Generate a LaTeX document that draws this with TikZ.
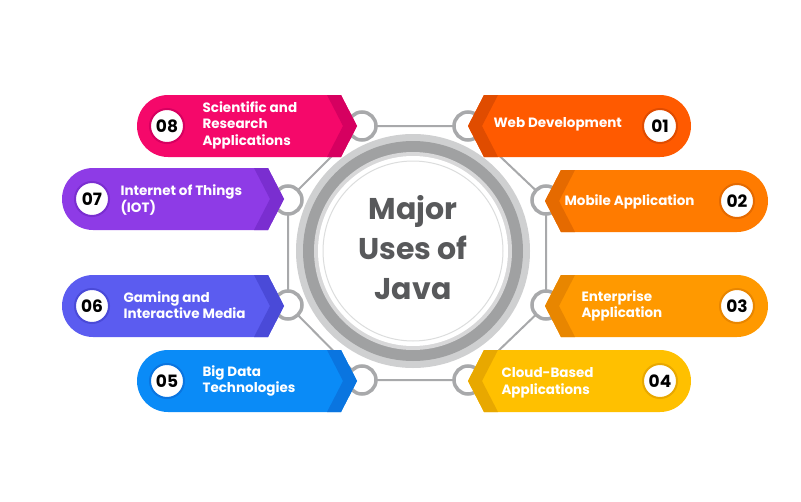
\documentclass[tikz,border=0pt]{standalone}
\usepackage{fontspec}
\setmainfont{Poppins}
\usetikzlibrary{calc}
\definecolor{cA}{HTML}{F5086A}\definecolor{dA}{HTML}{D60060}
\definecolor{cB}{HTML}{8E3BE6}\definecolor{dB}{HTML}{7A2ED0}
\definecolor{cC}{HTML}{5B5CF0}\definecolor{dC}{HTML}{4A4AD8}
\definecolor{cD}{HTML}{0A8BF7}\definecolor{dD}{HTML}{0A75E0}
\definecolor{cE}{HTML}{FF5A00}\definecolor{dE}{HTML}{E04C00}
\definecolor{cF}{HTML}{FF7B00}\definecolor{dF}{HTML}{E56A00}
\definecolor{cG}{HTML}{FF9900}\definecolor{dG}{HTML}{E88600}
\definecolor{cH}{HTML}{FFC000}\definecolor{dH}{HTML}{E8A800}
\definecolor{gline}{HTML}{A8A9AB}
\definecolor{tgray}{HTML}{58595B}
\tikzset{
  ringsm/.style={circle,draw=gline,line width=3.5pt,fill=white,minimum size=28pt,inner sep=0pt},
  numc/.style={circle,fill=white,minimum size=34pt,inner sep=0pt,font=\fontsize{17}{17}\selectfont\bfseries,text=black},
  btxt/.style={font=\fontsize{13.5}{16.5}\selectfont\bfseries,text=white,align=left,anchor=west},
  oct/.style={draw=gline,line width=2pt}
}
\newcommand\banR[5]{%
  \fill[#4] (#1+31,#3-31) -- (#2-16,#3-31) -- (#2,#3) -- (#2-16,#3+31) -- (#1+31,#3+31) arc[start angle=90,end angle=270,radius=31] -- cycle;
  \fill[#5] (#2-30,#3-31) -- (#2-16,#3-31) -- (#2,#3) -- (#2-16,#3+31) -- (#2-30,#3+31) -- (#2-14,#3) -- cycle;}
\newcommand\banL[5]{%
  \fill[#4] (#2-31,#3-31) -- (#1+16,#3-31) -- (#1,#3) -- (#1+16,#3+31) -- (#2-31,#3+31) arc[start angle=90,end angle=-90,radius=31] -- cycle;
  \fill[#5] (#1+30,#3-31) -- (#1+16,#3-31) -- (#1,#3) -- (#1+16,#3+31) -- (#1+30,#3+31) -- (#1+14,#3) -- cycle;}
\begin{document}
\begin{tikzpicture}[x=1pt,y=-1pt]
\useasboundingbox (0,0) rectangle (801,501);
\coordinate (r8) at (362,126);
\coordinate (r1) at (468,126);
\coordinate (r2) at (546,200);
\coordinate (r3) at (546,305);
\coordinate (r4) at (468,380);
\coordinate (r5) at (362,380);
\coordinate (r6) at (288,305);
\coordinate (r7) at (288,200);
\draw[oct] (r8)--(r1) (r1)--(r2) (r2)--(r3) (r3)--(r4) (r4)--(r5) (r5)--(r6) (r6)--(r7) (r7)--(r8);
\foreach \r in {r1,r2,r3,r4,r5,r6,r7,r8} \node[ringsm] (ring\r) at (\r) {};
\fill[gline!55] (413,251) circle (117);
\fill[gline!95!black] (413,251) circle (110);
\fill[gline!45] (413,251) circle (99);
\fill[white] (413,251) circle (95);
\draw[gline!40,line width=1pt] (413,251) circle (90);
\node[font=\fontsize{30}{40}\selectfont\bfseries,text=tgray,align=center] (title) at (413,248) {Major\\Uses of\\Java};
\banR{137}{357}{126}{cA}{dA}
\banR{62}{284}{199}{cB}{dB}
\banR{62}{284}{306}{cC}{dC}
\banR{137}{357}{381}{cD}{dD}
\banL{468}{691}{126}{cE}{dE}
\banL{545}{768}{201}{cF}{dF}
\banL{545}{768}{306}{cG}{dG}
\banL{468}{691}{381}{cH}{dH}
\node[numc,draw=dA,line width=2pt] (n8) at (167,126) {08};
\node[numc,draw=dB,line width=2pt] (n7) at (92,199) {07};
\node[numc,draw=dC,line width=2pt] (n6) at (92,306) {06};
\node[numc,draw=dD,line width=2pt] (n5) at (167,381) {05};
\node[numc,draw=dE,line width=2pt] (n1) at (660,126) {01};
\node[numc,draw=dF,line width=2pt] (n2) at (737,201) {02};
\node[numc,draw=dG,line width=2pt] (n3) at (737,306) {03};
\node[numc,draw=dH,line width=2pt] (n4) at (660,381) {04};
\node[btxt] (t8) at (199,125) {Scientific and\\Research\\Applications};
\node[btxt] (t7) at (117,200) {Internet of Things\\(IOT)};
\node[btxt] (t6) at (120,305) {Gaming and\\Interactive Media};
\node[btxt] (t5) at (199,381) {Big Data\\Technologies};
\node[btxt] (t1) at (490,124) {Web Development};
\node[btxt] (t2) at (561,202) {Mobile Application};
\node[btxt] (t3) at (578,306) {Enterprise\\Application};
\node[btxt] (t4) at (498,383) {Cloud-Based\\Applications};
\end{tikzpicture}
\end{document}
